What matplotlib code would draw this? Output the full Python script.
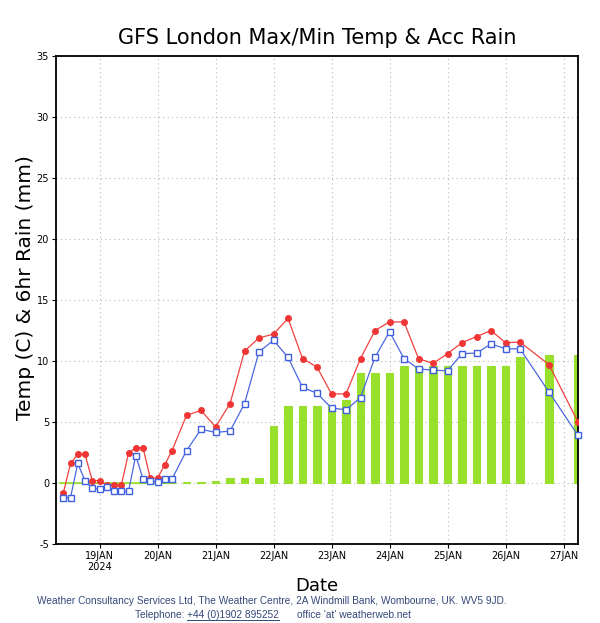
import numpy as np
import pandas as pd
import matplotlib
matplotlib.use('Agg')
import matplotlib.pyplot as plt
from matplotlib.lines import Line2D

# forecast times: 3-hourly to 20JAN 06Z, 6-hourly to 26JAN 06Z, then 12-hourly
times_3h = pd.date_range('2024-01-18 09:00', '2024-01-20 06:00', freq='3h')
times_6h = pd.date_range('2024-01-20 12:00', '2024-01-26 06:00', freq='6h')
times_12h = pd.to_datetime(['2024-01-26 18:00', '2024-01-27 06:00'])
times = times_3h.append(times_6h).append(times_12h)

t_max = [-0.85, 1.6, 2.35, 2.35, 0.2, 0.2, -0.2, -0.15, -0.2, 2.45, 2.9, 2.9, 0.4, 0.4, 1.5, 2.65,
         5.55, 5.95, 4.6, 6.5, 10.8, 11.9, 12.2, 13.5, 10.2, 9.5, 7.3, 7.3, 10.2, 12.5,
         13.2, 13.2, 10.2, 9.8, 10.6, 11.5, 12.0, 12.5, 11.5, 11.55,
         9.7, 5.0]
t_min = [-1.2, -1.2, 1.6, 0.2, -0.45, -0.5, -0.3, -0.62, -0.68, -0.68, 2.25, 0.33, 0.2, 0.08, 0.33, 0.33,
         2.65, 4.4, 4.15, 4.25, 6.5, 10.75, 11.7, 10.3, 7.85, 7.35, 6.15, 6.0, 7.0, 10.3,
         12.4, 10.2, 9.35, 9.25, 9.2, 10.6, 10.65, 11.4, 11.0, 11.0,
         7.45, 3.9]
rain = [0] * 16 + [0.05, 0.05, 0.2, 0.4, 0.45, 0.45, 4.65, 6.3, 6.3, 6.3, 6.3, 6.8, 9.0, 9.0,
                   9.0, 9.55, 9.55, 9.55, 9.55, 9.55, 9.55, 9.55, 9.55, 10.3,
                   10.5, 10.5]

day_ticks = pd.date_range('2024-01-19', '2024-01-27', freq='D')
day_labels = ['19JAN\n2024'] + [d.strftime('%d').lstrip('0') + 'JAN' for d in day_ticks[1:]]
y_ticks = [-5, 0, 5, 10, 15, 20, 25, 30, 35]

green = '#98e02c'
bar_w = pd.Timedelta(hours=3.2)

fig = plt.figure(figsize=(6.0, 6.23), dpi=100)
ax = fig.add_axes([56 / 600, 1 - 544 / 623, 522 / 600, 488 / 623])

ax.bar(times, rain, width=bar_w, color=green, edgecolor=green, linewidth=0.8, zorder=2)
# zero-rain steps still show as a thin green line at 0
dry = [t for t, r in zip(times, rain) if r == 0]
ax.hlines([0] * len(dry), [t - bar_w / 2 for t in dry], [t + bar_w / 2 for t in dry],
          color=green, linewidth=1.2, zorder=2)

ax.plot(times, t_max, color='#f04040', linewidth=0.9, marker='o', markersize=4,
        markerfacecolor='#f03535', markeredgecolor='#f03535', zorder=3)
ax.plot(times, t_min, color='#4a68e0', linewidth=0.9, marker='s', markersize=5,
        markerfacecolor='white', markeredgecolor='#4060e0', markeredgewidth=1.0, zorder=4,
        clip_on=False)

ax.set_xlim(pd.Timestamp('2024-01-18 06:00'), pd.Timestamp('2024-01-27 06:00'))
ax.set_ylim(-5, 35)
ax.set_xticks(day_ticks)
ax.set_xticklabels(day_labels, fontsize=7, linespacing=1.1)
ax.set_yticks(y_ticks)
ax.set_yticklabels([str(v) for v in y_ticks], fontsize=7)
ax.tick_params(axis='both', length=3, width=0.8, pad=2)

ax.grid(True, color='#b8b8b8', linestyle=(0, (1, 3)), linewidth=0.8, zorder=0)
ax.set_axisbelow(True)

for side in ['left', 'right']:
    ax.spines[side].set_linewidth(1.3)
for side in ['top', 'bottom']:
    ax.spines[side].set_linewidth(1.3)
    ax.spines[side].set_linestyle((0, (3, 1)))

ax.set_ylabel('Temp (C) & 6hr Rain (mm)', fontsize=14.5)
ax.yaxis.set_label_coords(-0.04, 0.525)
ax.set_xlabel('Date', fontsize=13, labelpad=4)
fig.text(0.528, 1 - 38 / 623, 'GFS London Max/Min Temp & Acc Rain', fontsize=15,
         ha='center', va='center')

foot_color = '#34497a'
fig.text(272 / 600, 1 - 601 / 623,
         'Weather Consultancy Services Ltd, The Weather Centre, 2A Windmill Bank, Wombourne, UK. WV5 9JD.',
         fontsize=7.3, color=foot_color, ha='center', va='center', family='Liberation Sans')
fig.text(135 / 600, 1 - 615 / 623, 'Telephone: ', fontsize=7.3, color=foot_color,
         ha='left', va='center', family='Liberation Sans')
fig.text(187 / 600, 1 - 615 / 623, '+44 (0)1902 895252', fontsize=7.3, color=foot_color,
         ha='left', va='center', family='Liberation Sans')
fig.add_artist(Line2D([187 / 600, 279 / 600], [1 - 620 / 623, 1 - 620 / 623],
                      color=foot_color, linewidth=0.7, transform=fig.transFigure))
fig.text(297 / 600, 1 - 615 / 623, "office 'at' weatherweb.net", fontsize=7.3, color=foot_color,
         ha='left', va='center', family='Liberation Sans')

fig.savefig('out.png', dpi=100)
